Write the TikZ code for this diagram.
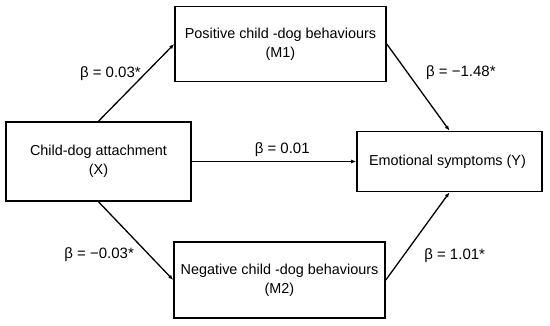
\documentclass[tikz,border=0pt]{standalone}
\usepackage{fontspec}
\setmainfont{Liberation Sans}
\usetikzlibrary{positioning, arrows.meta}
\tikzset{
  %% variable box
  var/.style={
    rectangle, draw, line width=1.6pt,
    align=center, inner sep=0pt,
    font=\fontsize{14.4}{19}\selectfont
  },
  %% arrows
  arr/.style={
    -{Latex[length=5pt, width=4pt]},
    line width=1.3pt
  },
  lbl/.style={
    font=\fontsize{15}{17}\selectfont, inner sep=0pt
  }
}

\begin{document}
\begin{tikzpicture}[x=1pt, y=-1pt]

\useasboundingbox (0,0) rectangle (550,325);

%% boxes
\node[var, minimum width=185pt, minimum height=79pt] (att) at (98.5,161.5) {
  Child-dog attachment\\
  (X)
};

\node[var, minimum width=185pt, minimum height=60pt] (emo) at (449.5,161.5) {
  Emotional symptoms (Y)
};

\node[var, minimum width=211pt, minimum height=75pt] (pos) at (280.5,44) {
  Positive child -dog behaviours\\
  (M1)
};

\node[var, minimum width=211pt, minimum height=76pt] (neg) at (279.5,280) {
  Negative child -dog behaviours\\
  (M2)
};

%% paths via the mediators
\draw[arr] (att.north) --
  node[lbl, left=4pt, pos=0.62]{β = 0.03*} (pos.west);

\draw[arr] (pos.east) --
  node[lbl, right=18pt, pos=0.33]{β = −1.48*} (emo.north);

\draw[arr] (att.south) --
  node[lbl, left=14pt, pos=0.67]{β = −0.03*} (neg.west);

\draw[arr] (neg.east) --
  node[lbl, right=20pt, pos=0.28]{β = 1.01*} (emo.south);

%% direct path
\draw[arr] (att.east) --
  node[lbl, above=4pt, pos=0.55]{β = 0.01} (emo.west);

\end{tikzpicture}
\end{document}
